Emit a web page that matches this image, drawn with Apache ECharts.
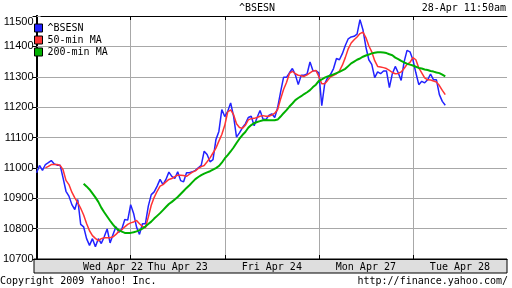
<!DOCTYPE html>
<html>
<head>
<meta charset="utf-8">
<script src="https://cdn.jsdelivr.net/npm/echarts@6/dist/echarts.min.js"></script>
<style>html,body{margin:0;padding:0;background:#fff}#c{width:512px;height:288px}</style>
</head>
<body>
<div id="c"></div>
<script>
// sample index: 32 samples per trading day
const dayLabels = ['Wed Apr 22', 'Thu Apr 23', 'Fri Apr 24', 'Mon Apr 27', 'Tue Apr 28'];
const dayLabelPos = [26, 48, 80, 112, 144];
const dayBounds = [32, 64, 96, 128];

const bsesn = [10984, 11008, 10992, 11011, 11017, 11024, 11013, 11009, 11009, 10967,
 10923, 10907, 10879, 10863, 10896, 10814, 10806, 10767, 10745, 10767,
 10740, 10767, 10751, 10773, 10799, 10753, 10781, 10806, 10788, 10799,
 10830, 10828, 10879, 10850, 10805, 10781, 10816, 10816, 10874, 10912,
 10921, 10940, 10962, 10945, 10962, 10986, 10972, 10965, 10987, 10958,
 10954, 10984, 10984, 10987, 10992, 11000, 11008, 11055, 11044, 11020,
 11027, 11093, 11120, 11192, 11169, 11186, 11214, 11170, 11101, 11115,
 11132, 11145, 11166, 11170, 11139, 11166, 11189, 11161, 11159, 11173,
 11178, 11166, 11199, 11250, 11298, 11298, 11313, 11327, 11307, 11274,
 11305, 11305, 11309, 11349, 11320, 11320, 11313, 11205, 11277, 11297,
 11308, 11327, 11360, 11356, 11376, 11403, 11425, 11431, 11433, 11440,
 11488, 11455, 11398, 11356, 11341, 11297, 11316, 11310, 11319, 11319,
 11264, 11310, 11334, 11313, 11288, 11349, 11387, 11382, 11356, 11313,
 11274, 11285, 11280, 11290, 11309, 11290, 11290, 11241, 11219, 11206];

const ma50Start = 3;
const ma50 = [11000, 11005, 11011, 11011, 11011, 11008, 10994, 10959, 10945, 10920,
 10901, 10886, 10867, 10845, 10817, 10793, 10777, 10768, 10760, 10767,
 10770, 10770, 10770, 10773, 10781, 10791, 10796, 10806, 10814, 10819,
 10822, 10827, 10816, 10807, 10803, 10838, 10877, 10903, 10923, 10940,
 10945, 10954, 10962, 10965, 10971, 10976, 10976, 10975, 10972, 10979,
 10986, 10990, 10998, 11004, 11008, 11020, 11033, 11049, 11065, 11088,
 11110, 11140, 11184, 11191, 11175, 11145, 11133, 11130, 11140, 11158,
 11162, 11163, 11166, 11170, 11172, 11170, 11170, 11174, 11180, 11192,
 11227, 11258, 11281, 11311, 11318, 11310, 11305, 11303, 11301, 11306,
 11313, 11319, 11321, 11301, 11277, 11277, 11288, 11300, 11305, 11310,
 11319, 11338, 11363, 11392, 11411, 11422, 11431, 11442, 11447, 11429,
 11402, 11382, 11353, 11334, 11332, 11330, 11327, 11321, 11314, 11310,
 11311, 11316, 11327, 11341, 11347, 11363, 11356, 11329, 11313, 11296,
 11290, 11289, 11286, 11283, 11271, 11255, 11241];

const ma200Start = 16;
const ma200 = [10948, 10939, 10929, 10916, 10903, 10888, 10869, 10854, 10840, 10826,
 10813, 10802, 10795, 10790, 10786, 10786, 10786, 10788, 10791, 10795,
 10800, 10807, 10815, 10823, 10833, 10842, 10851, 10861, 10871, 10881,
 10888, 10896, 10904, 10914, 10924, 10934, 10943, 10953, 10963, 10970,
 10976, 10981, 10985, 10989, 10994, 10999, 11006, 11017, 11031, 11042,
 11054, 11067, 11082, 11096, 11108, 11118, 11132, 11141, 11147, 11151,
 11154, 11157, 11158, 11157, 11157, 11157, 11159, 11169, 11180, 11190,
 11202, 11212, 11223, 11230, 11236, 11243, 11249, 11256, 11266, 11274,
 11286, 11291, 11297, 11301, 11304, 11308, 11312, 11316, 11321, 11326,
 11335, 11344, 11350, 11356, 11360, 11366, 11370, 11373, 11377, 11379,
 11381, 11381, 11380, 11378, 11374, 11371, 11363, 11358, 11352, 11347,
 11343, 11340, 11337, 11333, 11329, 11327, 11324, 11322, 11319, 11317,
 11314, 11312, 11307, 11301];

const MONO = 'DejaVu Sans Mono';
const chart = echarts.init(document.getElementById('c'), null, {renderer: 'canvas'});
const gridGray = '#a8a8a8';

chart.setOption({
  animation: false,
  backgroundColor: '#fff',
  title: [
    {text: '^BSESN', left: 239, top: 2, padding: 0,
     textStyle: {fontFamily: MONO, fontSize: 10, fontWeight: 'normal', color: '#000', lineHeight: 12}},
    {text: '28-Apr 11:50am', right: 6, top: 2, padding: 0,
     textStyle: {fontFamily: MONO, fontSize: 10, fontWeight: 'normal', color: '#000', lineHeight: 12}},
    {text: 'Copyright 2009 Yahoo! Inc.', left: 0, top: 275, padding: 0,
     textStyle: {fontFamily: MONO, fontSize: 10, fontWeight: 'normal', color: '#000', lineHeight: 12}},
    {text: 'http://finance.yahoo.com/', right: 4, top: 275, padding: 0,
     textStyle: {fontFamily: MONO, fontSize: 10, fontWeight: 'normal', color: '#000', lineHeight: 12}}
  ],
  legend: {
    orient: 'vertical', left: 34, top: 22, padding: 0,
    itemWidth: 8, itemHeight: 8, itemGap: 0, icon: 'rect',
    itemStyle: {borderColor: '#000', borderWidth: 1},
    textStyle: {fontFamily: MONO, fontSize: 10, color: '#000', lineHeight: 12},
    data: ['^BSESN', '50-min MA', '200-min MA']
  },
  grid: [
    {left: 34, right: 5, top: 16, bottom: 29, show: false},
    {left: 34, right: 5, top: 259, height: 14, show: true, backgroundColor: '#dedede', borderColor: '#000', borderWidth: 1}
  ],
  xAxis: [
    {gridIndex: 0, type: 'value', min: 0, max: 160, interval: 32, position: 'bottom', z: 5,
     axisLine: {lineStyle: {color: '#000', width: 1}},
     axisTick: {inside: true, length: 4, customValues: dayBounds, lineStyle: {color: '#000'}},
     axisLabel: {customValues: dayLabelPos, margin: 3, fontFamily: MONO, fontSize: 10, color: '#000',
       formatter: v => dayLabels[dayLabelPos.indexOf(v)] || ''},
     splitLine: {show: false}},
    {gridIndex: 0, type: 'value', min: 0, max: 160, interval: 32, position: 'top',
     axisLine: {lineStyle: {color: '#000', width: 1}},
     axisTick: {inside: true, length: 4, customValues: dayBounds, lineStyle: {color: '#000'}},
     axisLabel: {show: false},
     splitLine: {show: true, lineStyle: {color: gridGray, width: 1}}},
    {gridIndex: 1, type: 'value', min: 0, max: 160, show: false}
  ],
  yAxis: [
    {gridIndex: 0, type: 'value', min: 10700, max: 11500, interval: 100, position: 'left',
     axisLine: {show: true, lineStyle: {color: '#000', width: 2}},
     axisTick: {show: true, inside: true, length: 4, lineStyle: {color: gridGray}},
     axisLabel: {margin: 3, fontFamily: 'Liberation Sans', fontSize: 11, color: '#000',
       verticalAlignMaxLabel: 'top', formatter: v => String(v)},
     splitLine: {show: true, lineStyle: {color: gridGray, width: 1}}},
    {gridIndex: 0, type: 'value', min: 10700, max: 11500, interval: 100, position: 'right',
     axisLine: {show: true, lineStyle: {color: '#000', width: 2}},
     axisTick: {show: true, inside: true, length: 4, lineStyle: {color: '#000'}},
     axisLabel: {show: false},
     splitLine: {show: true, lineStyle: {color: gridGray, width: 1}}},
    {gridIndex: 1, type: 'value', min: 0, max: 1, show: false}
  ],
  series: [
    {name: '^BSESN', type: 'line', xAxisIndex: 0, yAxisIndex: 0, showSymbol: false,
     color: '#2222ff', lineStyle: {color: '#2222ff', width: 1.5},
     data: bsesn.map((v, i) => [i, v])},
    {name: '50-min MA', type: 'line', xAxisIndex: 0, yAxisIndex: 0, showSymbol: false,
     color: '#ff3333', lineStyle: {color: '#ff3333', width: 1.5},
     data: ma50.map((v, i) => [i + ma50Start, v])},
    {name: '200-min MA', type: 'line', xAxisIndex: 0, yAxisIndex: 0, showSymbol: false,
     color: '#00b000', lineStyle: {color: '#00b000', width: 2},
     data: ma200.map((v, i) => [i + ma200Start, v])}
  ]
});
</script>
</body>
</html>
